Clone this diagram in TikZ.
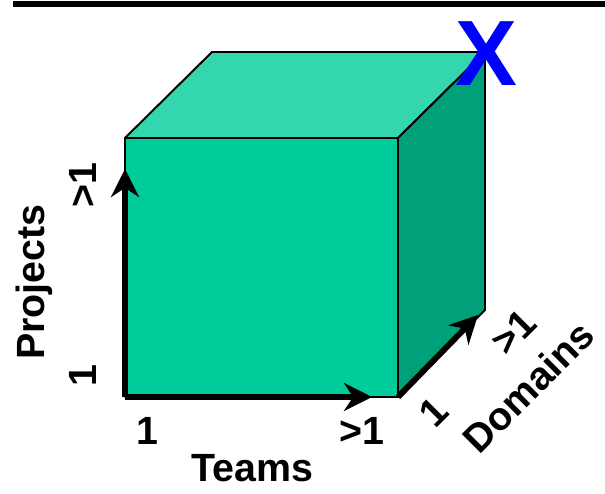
\documentclass[tikz,border=0pt]{standalone}
\usepackage{fontspec}
\setmainfont{Liberation Sans}
\usetikzlibrary{arrows.meta}
\definecolor{cubeFront}{RGB}{0,204,153}
\definecolor{cubeTop}{RGB}{51,214,173}
\definecolor{cubeSide}{RGB}{0,160,120}
\definecolor{markX}{RGB}{0,0,255}

\begin{document}
\begin{tikzpicture}[
  lbl/.style={font=\fontsize{28}{28}\selectfont\bfseries, inner sep=0pt},
  axis/.style={-{Stealth[length=7mm, width=7mm]}, line width=4.2pt},
  face/.style={draw, line width=1.4pt, line join=round}
]
  \useasboundingbox (0,0) rectangle (15.125,12.325);
  % top rule
  \fill (0.325,12.3) rectangle (15.125,12.14);

  % cube corners
  \coordinate (fbl) at (3.125,2.4);
  \coordinate (fbr) at (9.95,2.4);
  \coordinate (ftr) at (9.95,8.875);
  \coordinate (ftl) at (3.125,8.875);
  \coordinate (btl) at (5.3,11.025);
  \coordinate (btr) at (12.125,11.025);
  \coordinate (bbr) at (12.125,4.575);

  % faces
  \draw[face, fill=cubeTop] (ftl) -- (btl) -- (btr) -- (ftr) -- cycle;
  \draw[face, fill=cubeSide] (ftr) -- (btr) -- (bbr) -- (fbr) -- cycle;
  \draw[face, fill=cubeFront] (fbl) -- (fbr) -- (ftr) -- (ftl) -- cycle;

  % axes
  \coordinate (projTip) at (3.125,8.1);
  \coordinate (teamTip) at (9.3,2.4);
  \coordinate (domTip) at (11.95,4.45);
  \draw[axis] (fbl) -- (projTip);
  \draw[axis] (fbl) -- (teamTip);
  \draw[axis] (fbr) -- (domTip);

  % labels
  \node[lbl, rotate=90] (projects) at (0.85,5.275) {Projects};
  \node[lbl, rotate=90] (projOne) at (2.075,2.925) {1};
  \node[lbl, rotate=90] (projMany) at (2.075,7.7) {>1};
  \node[lbl] (teams) at (6.3,0.625) {Teams};
  \node[lbl] (teamOne) at (3.675,1.55) {1};
  \node[lbl] (teamMany) at (9.05,1.55) {>1};
  \node[lbl, rotate=45] (domains) at (13.2,2.65) {Domains};
  \node[lbl, rotate=45] (domOne) at (10.85,2.025) {1};
  \node[lbl, rotate=45] (domMany) at (12.85,4.025) {>1};

  % mark
  \node[font=\fontsize{66}{66}\selectfont\bfseries, text=markX, inner sep=0pt] (mark) at (12.15,10.975) {X};
\end{tikzpicture}
\end{document}
